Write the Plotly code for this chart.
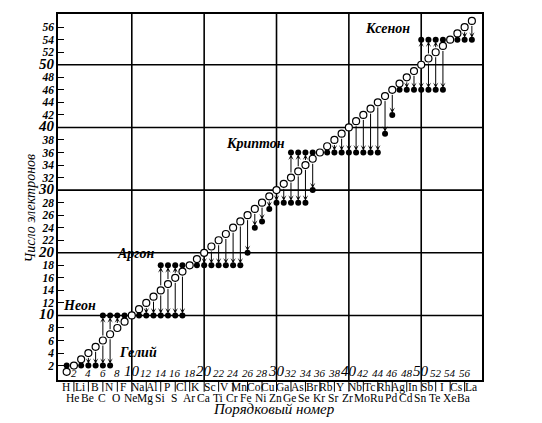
import plotly.graph_objects as go

# Атомные номера и символы элементов
SYMBOLS = [
    "H", "He", "Li", "Be", "B", "C", "N", "O", "F", "Ne",
    "Na", "Mg", "Al", "Si", "P", "S", "Cl", "Ar", "K", "Ca",
    "Sc", "Ti", "V", "Cr", "Mn", "Fe", "Co", "Ni", "Cu", "Zn",
    "Ga", "Ge", "As", "Se", "Br", "Kr", "Rb", "Sr", "Y", "Zr",
    "Nb", "Mo", "Tc", "Ru", "Rh", "Pd", "Ag", "Cd", "In", "Sn",
    "Sb", "Te", "I", "Xe", "Cs", "Ba", "La",
]
Z_VALUES = list(range(1, len(SYMBOLS) + 1))

# Число электронов в ионах (чёрные точки) для каждого элемента
IONS = [
    [2, 0], [], [2], [2], [2], [10, 2], [10, 2], [10], [10], [],
    [10], [10], [10], [18, 10], [18, 10], [18, 10], [18, 10], [], [18], [18],
    [18], [18], [18], [18], [18], [20], [24], [25], [27], [28],
    [28], [36, 28], [36, 28], [36, 28], [36, 30], [], [36], [36], [36], [36],
    [36], [36], [36], [36], [39], [42], [46], [46], [46], [54, 46],
    [54, 46], [54, 46], [54, 46], [], [54], [54], [54],
]

NOBLE_LABELS = ["Гелий", "Неон", "Аргон", "Криптон", "Ксенон"]
NOBLE_POS = [(7.9, 2.6, "left"), (5.3, 10.0, "right"), (13.5, 18.4, "right"),
             (31.5, 36.0, "right"), (48.7, 54.2, "right")]

X_TICKS = list(range(2, 57, 2))
Y_TICKS = list(range(2, 57, 2))
GRID = [10, 20, 30, 40, 50]

SERIF = "Liberation Serif"

fig = go.Figure()

dot_x, dot_y = [], []
annotations = []
for z, ions in zip(Z_VALUES, IONS):
    for ion in ions:
        annotations.append(dict(
            x=z, y=ion, ax=z, ay=z, xref="x", yref="y", axref="x", ayref="y",
            text="", showarrow=True, arrowhead=3, arrowsize=0.9, arrowwidth=1,
            arrowcolor="black", standoff=2, startstandoff=3.5,
        ))
        if ion > 0:
            dot_x.append(z)
            dot_y.append(ion)

fig.add_trace(go.Scatter(
    x=dot_x, y=dot_y, mode="markers",
    marker=dict(size=6, color="black"),
    hoverinfo="skip",
))
fig.add_trace(go.Scatter(
    x=Z_VALUES, y=Z_VALUES, mode="markers",
    marker=dict(size=7, color="white", line=dict(color="black", width=1.2)),
    hoverinfo="skip",
))

shapes = []
for g in GRID:
    shapes.append(dict(type="line", xref="x", yref="paper", x0=g, x1=g, y0=0, y1=1,
                       line=dict(color="black", width=1.6), layer="below"))
    shapes.append(dict(type="line", xref="paper", yref="y", x0=0, x1=1, y0=g, y1=g,
                       line=dict(color="black", width=1.6), layer="below"))

# Подписи по оси абсцисс внутри рамки
for v in X_TICKS:
    big = v % 10 == 0
    annotations.append(dict(
        x=v, y=0, xref="x", yref="paper", yanchor="bottom", yshift=-1,
        text=str(v), showarrow=False,
        font=dict(family=SERIF, size=15 if big else 11, color="black", style="italic"),
    ))

# Символы элементов в два ряда
for z, sym in zip(Z_VALUES, SYMBOLS):
    odd = z % 2 == 1
    annotations.append(dict(
        x=z - 0.15, y=0, xref="x", yref="paper", yanchor="middle",
        yshift=-7 if odd else -18,
        text=sym, showarrow=False,
        font=dict(family=SERIF, size=11.5, color="black"),
    ))
for z in Z_VALUES:
    if z % 2 == 0 and z < Z_VALUES[-1]:
        shapes.append(dict(type="line", xref="x", yref="paper", x0=z, x1=z,
                           y0=-0.003, y1=-0.032, line=dict(color="black", width=1)))

for label, (lx, ly, anchor) in zip(NOBLE_LABELS, NOBLE_POS):
    annotations.append(dict(
        x=lx, y=ly, xref="x", yref="y", xanchor=anchor, yanchor="bottom",
        text=label, showarrow=False,
        font=dict(family=SERIF, size=14, color="black", style="italic", weight="bold"),
    ))

annotations.append(dict(
    x=-0.085, y=0.47, xref="paper", yref="paper", textangle=-90,
    text="Число электронов", showarrow=False,
    font=dict(family=SERIF, size=14, color="black", style="italic"),
))
annotations.append(dict(
    x=0.51, y=-0.08, xref="paper", yref="paper", yanchor="middle",
    text="Порядковый номер", showarrow=False,
    font=dict(family=SERIF, size=15, color="black", style="italic"),
))

# поля подобраны с учётом отступа страницы в 8 px
fig.update_layout(
    width=542, height=423,
    margin=dict(l=50, r=68, t=4, b=51),
    paper_bgcolor="white", plot_bgcolor="white",
    showlegend=False,
    xaxis=dict(range=[-0.2, 58.4], showgrid=False, zeroline=False,
               showticklabels=False, ticks="",
               showline=True, linecolor="black", linewidth=1.6, mirror=True),
    yaxis=dict(range=[-0.3, 58.1], showgrid=False, zeroline=False,
               tickvals=Y_TICKS,
               ticktext=[f"<span style='font-size:15px'>{v}</span>" if v % 10 == 0 else str(v)
                         for v in Y_TICKS],
               ticks="inside", ticklen=6, tickwidth=1, tickcolor="black",
               tickfont=dict(family=SERIF, size=11.5, color="black", style="italic", weight="bold"),
               showline=True, linecolor="black", linewidth=1.6, mirror=True),
    shapes=shapes,
    annotations=annotations,
)

fig.write_html("out.html")
